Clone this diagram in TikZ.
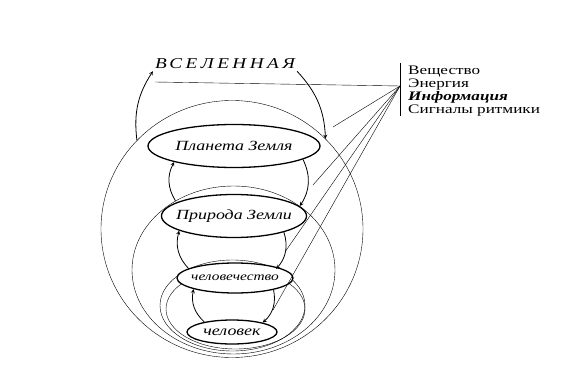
\documentclass[tikz,border=0pt]{standalone}
\usepackage{fontspec}
\setmainfont{Liberation Serif}
\newfontfamily\widefont[FakeStretch=1.28]{Liberation Serif}
\usepackage{tikz}
\usetikzlibrary{shapes.geometric, arrows}
\tikzset{
	sphere/.style={ellipse, draw, inner sep=0pt}
}
\tikzset{
	level/.style={ellipse, draw, fill=white, line width=1.3pt, inner sep=0pt, font=\widefont\fontsize{14}{16}\selectfont\itshape}
}
\tikzset{
	flow/.style={->, line width=0.8pt}
}
\newcommand{\lbl}[1]{\makebox[0pt]{#1}}

\begin{document}
\begin{tikzpicture}[>=stealth, x=1pt, y=1pt]
      \useasboundingbox (0,0) rectangle (575,367);

      % nested spheres (they touch at the bottom)
      \node[sphere, minimum width=262pt, minimum height=257pt] (s1) at (232,138) {};
      \node[sphere, minimum width=203pt, minimum height=168pt] (s2) at (233.5,97) {};
      \node[sphere, minimum width=145pt, minimum height=91pt] (s3) at (232.5,61.5) {};
      \node[sphere, minimum width=139pt, minimum height=80pt] (s4) at (235.5,58) {};

      % levels
      \node[level, minimum width=172pt, minimum height=43pt] (pz) at (234,221) {\lbl{Планета Земля}};
      \node[level, minimum width=145pt, minimum height=43pt] (pr) at (234,151) {\lbl{Природа Земли}};
      \node[level, minimum width=116pt, minimum height=30pt, font=\widefont\fontsize{12}{14}\selectfont\itshape] (hum) at (235,89) {\lbl{человечество}};
      \node[level, minimum width=90pt, minimum height=24pt] (man) at (232,35) {\lbl{человек}};

      \node[inner sep=2pt, font=\widefont\fontsize{15}{17}\selectfont\itshape\addfontfeature{LetterSpace=23}] (vs) at (225,303) {ВСЕЛЕННАЯ};

      % exchange between neighbouring levels
      \draw[flow] (s1.137) to[bend left=20] (vs.south west);
      \draw[flow] (vs.south east) to[bend left=20] (s1.44);
      \draw[flow] (s2.130) to[bend left=30] (pz.195);
      \draw[flow] (pz.-11) to[bend left=30] (s2.44);
      \draw[flow] (s3.140) to[bend left=30] (pr.195);
      \draw[flow] (pr.-18) to[bend left=30] (s3.40);
      \draw[flow] (man.160) to[bend left=30] (hum.195);
      \draw[flow] (hum.-17) to[bend left=30] (man.17);

      % inflow from outside
      \node[anchor=north west, inner sep=0pt, align=left, font=\widefont\fontsize{13}{12.8}\selectfont\addfontfeature{FakeStretch=1.32}] (lst) at (408,301)
        {Вещество\\Энергия\\\textbf{\textit{Информация}}\\Сигналы ритмики};
      \draw ([xshift=-8pt,yshift=3pt]lst.north west) -- ([xshift=-8pt]lst.south west);
      \coordinate (src) at (400,281);
      \coordinate (t0) at (155,285);
      \coordinate (t1) at (333,240);
      \coordinate (t2) at (313,182);
      \coordinate (t3) at (285,115);
      \coordinate (t4) at (273,57);
      \foreach \t in {t0,t1,t2,t3,t4}
        \draw (src) -- (\t);
\end{tikzpicture}
\end{document}
